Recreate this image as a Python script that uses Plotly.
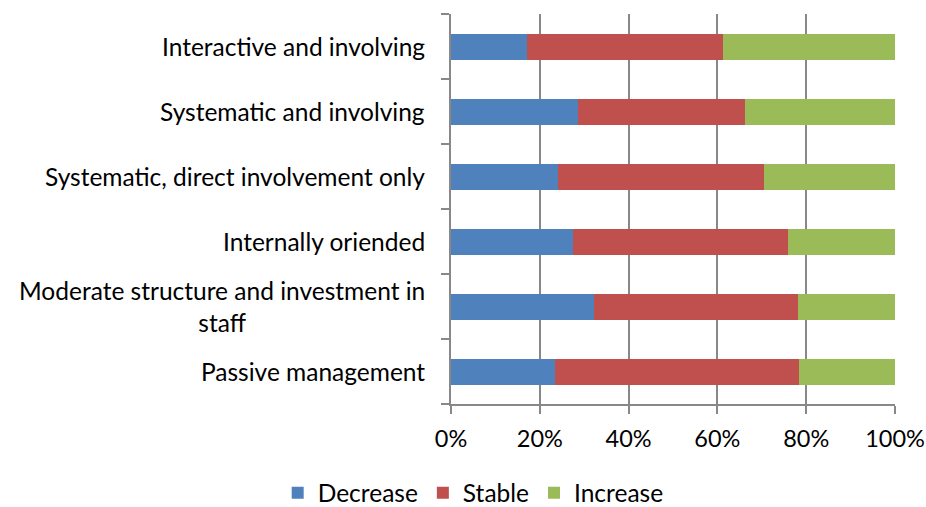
import plotly.graph_objects as go

categories = [
    "Passive management",
    "Moderate structure and investment in<br>staff",
    "Internally oriended",
    "Systematic, direct involvement only",
    "Systematic and involving",
    "Interactive and involving",
]
decrease = [23.4, 32.1, 27.5, 24.1, 28.5, 17.2]
stable = [55.0, 46.1, 48.5, 46.3, 37.7, 44.1]
increase = [21.6, 21.8, 24.0, 29.6, 33.8, 38.7]
x_ticks = [0, 0.2, 0.4, 0.6, 0.8, 1.0]
x_tick_labels = ["0%", "20%", "40%", "60%", "80%", "100%"]

series = [("Decrease", decrease, "#4F81BD"), ("Stable", stable, "#C0504D"), ("Increase", increase, "#9BBB59")]

FONT = "Lato"
FS = 24.5
GRID = "#888888"

fig = go.Figure()
for name, vals, col in series:
    tot = [d + s + i for d, s, i in zip(decrease, stable, increase)]
    fig.add_trace(go.Bar(
        y=categories, x=[v / t for v, t in zip(vals, tot)], name=name, orientation="h",
        marker=dict(color=col, line=dict(width=0)),
    ))

for c in categories:
    fig.add_annotation(
        x=0, xref="paper", y=c, yref="y", text=c, showarrow=False,
        xanchor="right", yanchor="middle", align="center", xshift=-24,
        font=dict(family=FONT, size=FS, color="#000000"),
    )

fig.update_layout(
    barmode="stack", bargap=0.6,
    width=926, height=507,
    margin=dict(l=451, r=31, t=14, b=103, autoexpand=False),
    paper_bgcolor="white", plot_bgcolor="white",
    font=dict(family=FONT, size=FS, color="#000000"),
    showlegend=True,
    legend=dict(orientation="h", xref="container", yref="paper", x=0.511, y=-0.228,
                xanchor="center", yanchor="middle", font=dict(family=FONT, size=FS),
                traceorder="normal"),
    xaxis=dict(range=[0, 1], tickvals=x_ticks, ticktext=x_tick_labels, showgrid=True,
               gridcolor=GRID, gridwidth=2, showline=True, linecolor=GRID, linewidth=2,
               ticks="outside", ticklen=8, tickcolor=GRID, tickwidth=2, zeroline=False,
               ticklabelstandoff=5, automargin=False, ticklabeloverflow="allow",
               tickfont=dict(family=FONT, size=23.5)),
    yaxis=dict(showticklabels=False, showline=True, linecolor=GRID, linewidth=2,
               ticks="outside", ticklen=8, tickcolor=GRID, tickwidth=2, tickson="boundaries",
               showgrid=False, range=[-0.5, 5.5], automargin=False),
)

fig.write_html("out.html", config={"displayModeBar": False},
               post_script="document.body.style.margin='0px';")
